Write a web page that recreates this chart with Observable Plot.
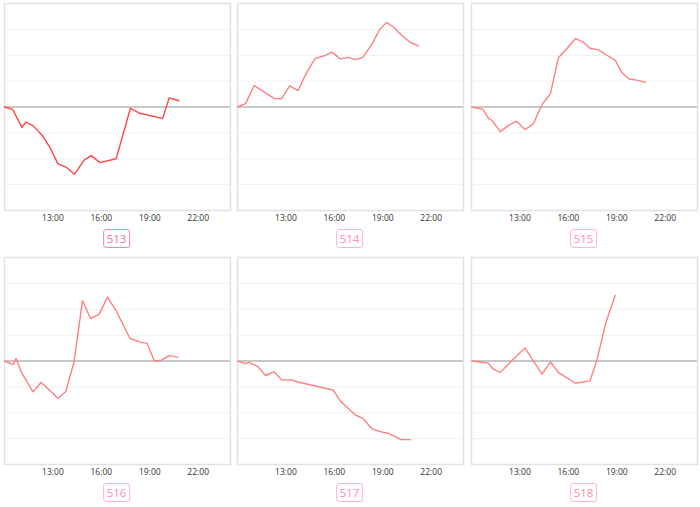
<!DOCTYPE html>
<html>
<head>
<meta charset="utf-8">
<script src="https://cdn.jsdelivr.net/npm/d3@7"></script>
<script src="https://cdn.jsdelivr.net/npm/@observablehq/plot@0.6"></script>
<style>
  html, body { margin: 0; padding: 0; background: #fff; }
  body { width: 700px; height: 507px; position: relative; overflow: hidden; font-family: "Open Sans", Lato, sans-serif; }
  .cell { position: absolute; width: 233px; }
  .cell svg { display: block; overflow: visible; }
  .tag { position: absolute; left: 50%; transform: translateX(-50%); border: 1.6px solid #ffb6c9; border-radius: 3px;
         color: #ff8cab; font-size: 11.5px; line-height: 17px; padding: 0 3px; background: #fff; font-family: "Open Sans", sans-serif; }
  .tag.sel { border-color: #f484a8; color: #ee6f97; }
</style>
</head>
<body>
<script>
// ---- data ----
const panelNames = ["513", "514", "515", "516", "517", "518"];
const tickLabels = ["13:00", "16:00", "19:00", "22:00"];

const times513 = ["10:00","10:30","11:05","11:20","11:48","12:20","12:50","13:18","13:48","14:20","14:55","15:22","15:55","16:55","17:48","18:22","19:48","20:12","20:48"];
const values513 = [0,-0.09,-0.79,-0.58,-0.74,-1.10,-1.58,-2.19,-2.32,-2.60,-2.06,-1.88,-2.15,-2.0,-0.05,-0.24,-0.44,0.35,0.24];

const times514 = ["10:00","10:30","11:02","12:16","12:44","13:14","13:45","14:16","14:49","15:20","15:51","16:22","16:52","17:17","17:45","18:19","18:49","19:14","19:38","20:09","20:40","21:13"];
const values514 = [0,0.13,0.83,0.33,0.32,0.82,0.63,1.31,1.88,1.97,2.12,1.86,1.92,1.83,1.91,2.42,3.0,3.27,3.10,2.78,2.51,2.36];

const times515 = ["10:00","10:43","11:03","11:18","11:47","12:17","12:47","13:19","13:50","14:22","14:53","15:23","15:55","16:26","16:55","17:20","17:52","18:23","18:54","19:19","19:46","20:15","20:46"];
const values515 = [0,-0.09,-0.44,-0.54,-0.95,-0.72,-0.55,-0.87,-0.65,0.10,0.50,1.90,2.26,2.64,2.51,2.27,2.21,2.0,1.81,1.33,1.08,1.04,0.95];

const times516 = ["10:00","10:32","10:43","11:03","11:46","12:16","13:19","13:48","14:18","14:50","15:20","15:52","16:23","16:54","17:46","18:20","18:50","19:17","19:43","20:13","20:44"];
const values516 = [0,-0.14,0.10,-0.44,-1.19,-0.82,-1.44,-1.18,-0.05,2.33,1.64,1.81,2.47,1.96,0.88,0.74,0.68,0,0.03,0.21,0.14];

const times517 = ["10:00","10:30","10:44","11:16","11:44","12:15","12:46","13:16","13:48","15:55","16:23","16:50","17:17","17:46","18:20","18:54","19:19","19:44","20:08","20:43"];
const values517 = [0,-0.10,-0.05,-0.22,-0.56,-0.42,-0.74,-0.72,-0.82,-1.12,-1.56,-1.82,-2.08,-2.22,-2.62,-2.74,-2.79,-2.91,-3.04,-3.04];

const times518 = ["10:00","11:02","11:18","11:47","12:32","13:19","14:22","14:53","15:23","16:26","17:20","17:46","18:20","18:54"];
const values518 = [0,-0.08,-0.29,-0.44,0.04,0.50,-0.51,-0.04,-0.44,-0.86,-0.77,0.03,1.5,2.53];

const seriesTimes = [times513, times514, times515, times516, times517, times518];
const seriesValues = [values513, values514, values515, values516, values517, values518];

// ---- helpers ----
function toDate(s) { const [h, m] = s.split(":").map(Number); return new Date(Date.UTC(2024, 0, 1, h, m)); }
const xDomain = [toDate("10:00"), toDate("24:00")];
const tickDates = tickLabels.map(toDate);

const lefts = [0, 233, 467];
const tops = [0, 254];

panelNames.forEach((name, i) => {
  const data = seriesTimes[i].map((t, j) => ({ t: toDate(t), v: seriesValues[i][j] }));
  const selected = i === 0;
  const chart = Plot.plot({
    width: 233,
    height: 232,
    marginLeft: 4,
    marginRight: 3,
    marginTop: 3,
    marginBottom: 22,
    style: { fontFamily: "'Open Sans', sans-serif", fontSize: "8.5px", color: "#333", background: "transparent" },
    x: { type: "utc", domain: xDomain, label: null },
    y: { domain: [-4, 4], axis: null },
    marks: [
      Plot.gridY([-3, -2, -1, 1, 2, 3], { stroke: "#f0f0f0", strokeOpacity: 1 }),
      Plot.ruleY([0], { stroke: "#b4b4b4", strokeWidth: 1.5 }),
      Plot.frame({ stroke: "#e2e2e2", strokeWidth: 1.5 }),
      Plot.line(data, { x: "t", y: "v", stroke: selected ? "#ff4646" : "#ff8080", strokeWidth: 1.4 }),
      Plot.axisX(tickDates, { tickSize: 0, tickPadding: 4, tickFormat: d3.utcFormat("%H:%M"), label: null, fill: "#333" })
    ]
  });
  const cell = document.createElement("div");
  cell.className = "cell";
  cell.style.left = lefts[i % 3] + "px";
  cell.style.top = tops[Math.floor(i / 3)] + "px";
  cell.appendChild(chart);
  const tag = document.createElement("div");
  tag.className = "tag" + (selected ? " sel" : "");
  tag.textContent = name;
  tag.style.top = "229px";
  cell.appendChild(tag);
  document.body.appendChild(cell);
});
</script>
</body>
</html>
